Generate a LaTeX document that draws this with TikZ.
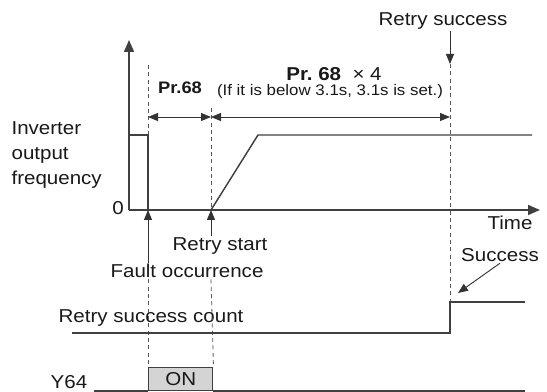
\documentclass[tikz,border=0pt]{standalone}
\usepackage{fontspec}
\setmainfont{Liberation Sans}[FakeStretch=1.1]
\usetikzlibrary{positioning,arrows.meta}
\begin{document}
\begin{tikzpicture}[x=0.75pt, y=-0.75pt,
every node/.style={font=\fontsize{14}{19}\selectfont, text=black!90, inner sep=1pt},
sig/.style={draw=black!75, line width=1.1pt},
axis/.style={draw=black!75, line width=1.3pt, -{Triangle[length=9pt,width=7.5pt]}},
guide/.style={draw=black!65, line width=0.6pt, dash pattern=on 3pt off 2.5pt},
tip/.style={draw=black!80, line width=0.7pt, -{Triangle[length=7.5pt,width=6pt]}},
dim/.style={draw=black!80, line width=0.7pt, {Triangle[length=7.5pt,width=6pt]}-{Triangle[length=7.5pt,width=6pt]}}]
\useasboundingbox (0,0) rectangle (547,392);
\coordinate (O) at (129,210);
\coordinate (tf) at (148,210);
\coordinate (tr) at (211,210);
\coordinate (ts) at (450,210);
\coordinate (tstop) at (450,64);
\coordinate (lvl) at (258,135);
\coordinate (step) at (450,302);
\node[align=left, anchor=west] (freq) at (10,155) {Inverter\\output\\frequency};
\node (zero) at (118,208) {0};
\node (time) at (510,223) {Time};
\node (rsucc) at (443,21) {Retry success};
\node (rstart) at (220,246) {Retry start};
\node (fault) at (187,271) {Fault occurrence};
\node (succ) at (500,255) {Success};
\node[anchor=west] (count) at (57,318) {Retry success count};
\node (y64) at (69,382) {Y64};
\node[font=\bfseries\fontsize{12.5}{15}\selectfont] (pr) at (180,88) {Pr.68};
\node[font=\fontsize{14}{15}\selectfont] (pr4) at (334,74) {\textbf{Pr.\ 68}\ \ × 4};
\node[font=\fontsize{11.5}{14}\selectfont] (note) at (330,92) {(If it is below 3.1s, 3.1s is set.)};
\node[draw=black!75, line width=1.1pt, fill=black!17, minimum width=48pt, minimum height=17.25pt, anchor=south west] (on) at (148,391) {ON};
\draw[axis] (O) -- (129,40);
\draw[axis] (O) -- (540,210);
\draw[guide] (148,65) -- (tf);
\draw[guide] (211,108) -- (tr);
\draw[guide] (tstop) -- (step);
\draw[guide] (fault.south -| tf) -- (on.north west);
\draw[guide] (fault.south -| tr) -- (on.north east);
\draw[sig] (129,135) -- (148,135) -- (tf);
\draw[sig] (tr) -- (lvl) -- (532,135);
\draw[sig] (72,333) -- (450,333) -- (step) -- (525,302);
\draw[sig] (94,391) -- (on.south west);
\draw[sig] (on.south east) -- (525,391);
\draw[dim] (148,117) -- (211,117);
\draw[dim] (211,117) -- (450,117);
\draw[tip] (rsucc.south -| ts) -- (tstop);
\draw[tip] (fault.north -| tf) -- (tf);
\draw[tip] (rstart.north -| tr) -- (tr);
\draw[tip] (succ.south) -- (458,293);
\end{tikzpicture}
\end{document}
